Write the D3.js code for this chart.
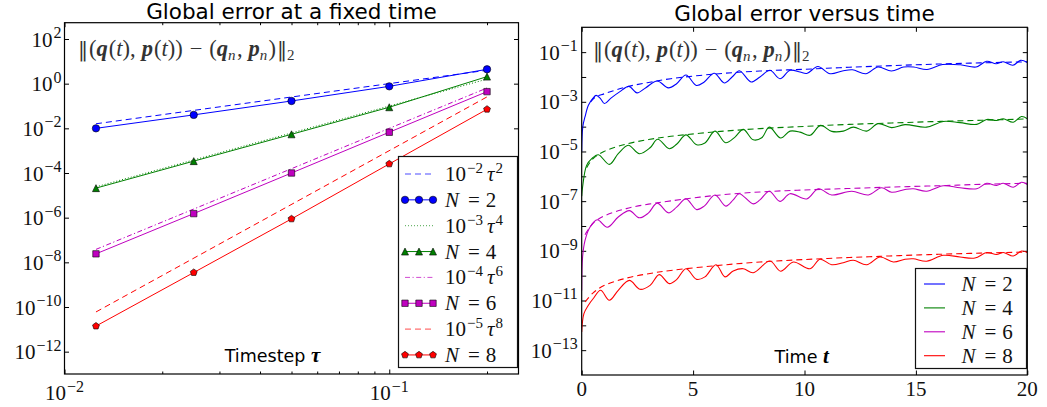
<!DOCTYPE html>
<html>
<head>
<meta charset="utf-8">
<script src="https://cdn.jsdelivr.net/npm/d3@7"></script>
<style>
  body { margin: 0; background: #fff; }
  svg { display: block; }
</style>
</head>
<body>
<svg id="chart" width="1047" height="407"></svg>
<script>
// ---------- convergence data: global error at fixed time vs timestep ----------
const taus  = [0.0125, 0.025, 0.05, 0.1, 0.2];
const errN2 = [1.0e-2, 4.0e-2, 1.68e-1, 7.6e-1, 4.4];
const errN4 = [2.1e-5, 3.4e-4, 5.4e-3, 8.8e-2, 2.07];
const errN6 = [2.4e-8, 1.52e-6, 1.0e-4, 6.7e-3, 4.4e-1];
const errN8 = [1.4e-11, 3.5e-9, 8.8e-7, 2.55e-4, 7.15e-2];

// reference power-law lines, values at the first and last timestep
const refTaus = [0.0125, 0.2];
const refN2 = [1.6e-2, 4.0];
const refN4 = [2.4e-5, 1.6];
const refN6 = [3.8e-8, 0.64];
const refN8 = [6.0e-11, 0.256];
const refCoefExp = ["−2", "−3", "−4", "−5"];
const refOrder   = ["2", "4", "6", "8"];
const orderN     = ["2", "4", "6", "8"];

// ---------- error versus time: [t, log10(error)] ----------
const curveN2 = [[0,-5.0],[0.05,-4.0],[0.15,-3.6],[0.3,-3.14],[0.5,-2.86],[0.65,-2.74],[0.85,-2.88],[1.02,-3.07],
  [1.3,-2.86],[1.7,-2.6],[2.12,-2.38],[2.48,-2.64],[2.88,-2.43],[3.39,-2.16],[3.89,-2.44],[4.26,-2.27],[4.68,-1.92],
  [5.15,-2.34],[5.5,-2.2],[5.95,-1.85],[6.4,-2.24],[6.75,-2.0],[7.08,-1.75],[7.6,-2.2],[8.0,-2.0],[8.45,-1.73],
  [8.9,-2.07],[9.35,-1.73],[9.8,-1.8],[10.1,-1.86],[10.6,-1.58],[11.15,-1.87],[11.7,-1.76],[12.15,-1.71],[12.75,-1.87],
  [13.3,-1.6],[13.9,-1.76],[14.45,-1.6],[14.9,-1.6],[15.5,-1.7],[16.2,-1.5],[17.0,-1.51],[17.7,-1.6],[18.18,-1.37],
  [18.6,-1.47],[18.92,-1.39],[19.35,-1.53],[19.7,-1.33],[20,-1.42]];
const curveN4 = [[0,-6.8],[0.04,-6.43],[0.22,-5.56],[0.45,-5.29],[0.75,-5.13],[1.24,-5.52],[1.64,-5.09],[2.09,-4.75],
  [2.59,-5.09],[3.07,-4.85],[3.41,-4.51],[3.93,-4.89],[4.26,-4.71],[4.68,-4.33],[5.16,-4.73],[5.53,-4.66],[5.98,-4.18],
  [6.46,-4.65],[6.88,-4.42],[7.25,-4.11],[7.7,-4.53],[8.08,-4.45],[8.42,-4.02],[8.93,-4.46],[9.35,-4.18],[9.8,-4.22],
  [10.25,-4.35],[10.72,-3.95],[11.22,-4.19],[11.74,-4.18],[12.19,-4.02],[12.79,-4.18],[13.31,-3.88],[13.91,-4.04],
  [14.51,-3.92],[15.48,-4.02],[16.23,-3.79],[16.98,-3.84],[17.73,-3.91],[18.18,-3.71],[18.62,-3.75],[18.92,-3.68],
  [19.37,-3.82],[19.74,-3.59],[20,-3.68]];
const curveN6 = [[0,-10.6],[0.04,-9.25],[0.15,-8.58],[0.37,-8.05],[0.7,-7.75],[1.15,-8.05],[1.64,-7.64],[2.14,-7.38],
  [2.59,-7.67],[2.99,-7.48],[3.39,-7.08],[3.89,-7.47],[4.26,-7.24],[4.68,-6.91],[5.16,-7.34],[5.5,-7.2],[5.98,-6.75],
  [6.47,-7.2],[6.8,-6.95],[7.07,-6.7],[7.7,-7.11],[8.0,-6.95],[8.42,-6.6],[8.9,-7.01],[9.35,-6.7],[10.1,-6.91],
  [10.62,-6.5],[11.22,-6.75],[12.12,-6.6],[12.87,-6.75],[13.46,-6.46],[13.91,-6.64],[14.51,-6.53],[14.88,-6.5],
  [15.48,-6.6],[16.23,-6.38],[16.98,-6.46],[17.73,-6.5],[18.18,-6.28],[18.62,-6.37],[18.92,-6.28],[19.37,-6.44],
  [19.74,-6.24],[20,-6.33]];
const curveN8 = [[0,-12.27],[0.1,-11.53],[0.3,-11.19],[0.52,-10.92],[0.85,-10.59],[1.24,-10.99],[1.64,-10.59],
  [2.14,-10.19],[2.62,-10.55],[3.07,-10.39],[3.48,-9.96],[3.93,-10.32],[4.26,-10.16],[4.68,-9.72],[5.16,-10.15],
  [5.53,-10.05],[6.03,-9.56],[6.43,-10.05],[6.8,-9.81],[7.25,-9.72],[7.7,-9.88],[8.45,-9.41],[8.93,-9.82],[9.5,-9.45],
  [10.25,-9.72],[10.7,-9.34],[11.22,-9.56],[11.74,-9.48],[12.19,-9.38],[12.79,-9.56],[13.39,-9.25],[13.99,-9.45],
  [14.51,-9.34],[14.88,-9.32],[15.48,-9.42],[16.23,-9.18],[16.98,-9.25],[17.65,-9.29],[18.18,-9.07],[18.62,-9.15],
  [18.92,-9.07],[19.37,-9.21],[19.74,-9.01],[20,-9.07]];

// averaged growth trend for each order
const trendN2 = [[0.4,-3.0],[0.6,-2.82],[1,-2.68],[2,-2.4],[3,-2.22],[4,-2.07],[6,-1.88],[8,-1.76],[10,-1.69],
  [12,-1.61],[14,-1.54],[16,-1.48],[18,-1.43],[20,-1.39]];
const trendN4 = [[0.22,-5.65],[0.5,-5.3],[1,-5.0],[2,-4.7],[3,-4.52],[4,-4.39],[6,-4.21],[8,-4.08],[10,-3.99],
  [12,-3.91],[14,-3.85],[16,-3.79],[18,-3.74],[20,-3.69]];
const trendN6 = [[0.15,-8.35],[0.5,-7.9],[1,-7.6],[2,-7.3],[3,-7.12],[4,-6.99],[6,-6.77],[8,-6.63],[10,-6.55],
  [12,-6.49],[14,-6.43],[16,-6.38],[18,-6.32],[20,-6.28]];
const trendN8 = [[0.15,-11.06],[0.5,-10.7],[1,-10.4],[2,-10.1],[3,-9.92],[4,-9.79],[6,-9.6],[8,-9.45],[10,-9.35],
  [12,-9.27],[14,-9.2],[16,-9.14],[18,-9.09],[20,-9.05]];

// tick values
const leftXMajor = [0.01, 0.1];
const leftXMinor = [0.02,0.03,0.04,0.05,0.06,0.07,0.08,0.09,0.2];
const leftYExp   = [2,0,-2,-4,-6,-8,-10,-12];
const timeTicks  = [0,5,10,15,20];
const rightYLabelExp = [-1,-3,-5,-7,-9,-11,-13];
const rightYTickExp  = [-1,-2,-3,-4,-5,-6,-7,-8,-9,-10,-11,-12,-13];

// ---------- styling ----------
const colors  = ["#0000ff", "#008000", "#bf00bf", "#ff0000"];
const refDash = ["6,4", "1,2", "5,2.5,1.2,2.5", "6,4"];
const markers = ["circle", "triangle", "square", "pentagon"];
const SERIF = "'Liberation Serif', 'DejaVu Serif', serif";
const SANS  = "'DejaVu Sans', sans-serif";
const TXT = "#111";
const TICK_FS = 21, SUP_FS = 16, SUP_RISE = 8.5;

const errs   = [errN2, errN4, errN6, errN8];
const refs   = [refN2, refN4, refN6, refN8];
const curves = [curveN2, curveN4, curveN6, curveN8];
const trends = [trendN2, trendN4, trendN6, trendN8];

const svg = d3.select("#chart");

// ---------- panel geometry and scales ----------
const L = {x0: 64.5, x1: 518.5, y0: 22.7, y1: 374};
const R = {x0: 581.7, x1: 1027.3, y0: 27.3, y1: 375};
const xL = d3.scaleLog().domain([0.01, 0.25]).range([L.x0, L.x1]);
const yL = d3.scaleLog().domain([1e-13, Math.pow(10, 2.73)]).range([L.y1, L.y0]);
const xR = d3.scaleLinear().domain([0, 20]).range([R.x0, R.x1]);
const yR = d3.scaleLog().domain([1e-14, 1]).range([R.y1, R.y0]);

function powText(sel, exp) {
  sel.append("tspan").text("10");
  sel.append("tspan").attr("dx", 1).attr("dy", -SUP_RISE).attr("font-size", SUP_FS)
     .text(exp < 0 ? "−" + (-exp) : String(exp));
}

function markerPath(kind, r) {
  if (kind === "circle") return d3.symbol(d3.symbolCircle, Math.PI * r * r)();
  if (kind === "square") return `M${-r},${-r}H${r}V${r}H${-r}Z`;
  if (kind === "triangle") return `M0,${-r}L${r},${r}L${-r},${r}Z`;
  const pts = d3.range(5).map(k => {
    const a = -Math.PI / 2 + k * 2 * Math.PI / 5;
    return [r * Math.cos(a), r * Math.sin(a)];
  });
  return "M" + pts.map(p => p.join(",")).join("L") + "Z";
}
const markerSize = {circle: 3.7, triangle: 3.5, square: 3.2, pentagon: 3.6};

// "N = k" legend label with math-style spacing
function nLabel(t, k) {
  t.append("tspan").attr("font-style", "italic").text("N");
  t.append("tspan").attr("dx", 9).text("=");
  t.append("tspan").attr("dx", 6).text(k);
}

const defs = svg.append("defs");
defs.append("clipPath").attr("id", "clipL").append("rect")
  .attr("x", L.x0).attr("y", L.y0).attr("width", L.x1 - L.x0).attr("height", L.y1 - L.y0);
defs.append("clipPath").attr("id", "clipR").append("rect")
  .attr("x", R.x0).attr("y", R.y0).attr("width", R.x1 - R.x0).attr("height", R.y1 - R.y0);

function styleAxis(g) {
  g.select(".domain").remove();
  g.selectAll(".tick line").attr("stroke", "#000").attr("stroke-width", 1);
}

// ===================== LEFT PANEL =====================
const gL = svg.append("g");

[["bottom", L.y1], ["top", L.y0]].forEach(([side, y]) => {
  const mk = side === "bottom" ? d3.axisBottom : d3.axisTop;
  gL.append("g").attr("transform", `translate(0,${y})`)
    .call(mk(xL).tickValues(leftXMajor).tickSize(-4.5).tickFormat("")).call(styleAxis);
  gL.append("g").attr("transform", `translate(0,${y})`)
    .call(mk(xL).tickValues(leftXMinor).tickSize(-2.5).tickFormat("")).call(styleAxis);
});
const leftYVals = leftYExp.map(e => Math.pow(10, e));
gL.append("g").attr("transform", `translate(${L.x0},0)`)
  .call(d3.axisLeft(yL).tickValues(leftYVals).tickSize(-4.5).tickFormat("")).call(styleAxis);
gL.append("g").attr("transform", `translate(${L.x1},0)`)
  .call(d3.axisRight(yL).tickValues(leftYVals).tickSize(-4.5).tickFormat("")).call(styleAxis);

leftYExp.forEach(e => {
  gL.append("text").attr("x", L.x0 - 3).attr("y", yL(Math.pow(10, e)) + 7.5)
    .attr("text-anchor", "end").attr("font-family", SERIF).attr("font-size", TICK_FS).attr("fill", TXT)
    .call(t => powText(t, e));
});
leftXMajor.forEach(v => {
  gL.append("text").attr("x", xL(v)).attr("y", 400)
    .attr("text-anchor", "middle").attr("font-family", SERIF).attr("font-size", TICK_FS).attr("fill", TXT)
    .call(t => powText(t, Math.round(Math.log10(v))));
});

const lineL = d3.line().x(d => xL(d[0])).y(d => yL(d[1]));
const plotL = gL.append("g").attr("clip-path", "url(#clipL)");
errs.forEach((vals, i) => {
  plotL.append("path").datum(refTaus.map((t, k) => [t, refs[i][k]]))
    .attr("d", lineL).attr("fill", "none").attr("stroke", colors[i])
    .attr("stroke-width", 1).attr("stroke-dasharray", refDash[i]);
  plotL.append("path").datum(taus.map((t, k) => [t, vals[k]]))
    .attr("d", lineL).attr("fill", "none").attr("stroke", colors[i]).attr("stroke-width", 1);
});
errs.forEach((vals, i) => {
  plotL.selectAll(null).data(taus.map((t, k) => [t, vals[k]])).enter().append("path")
    .attr("transform", d => `translate(${xL(d[0])},${yL(d[1])})`)
    .attr("d", markerPath(markers[i], markerSize[markers[i]]))
    .attr("fill", colors[i]).attr("stroke", "#000").attr("stroke-width", 0.6);
});

gL.append("rect").attr("x", L.x0).attr("y", L.y0).attr("width", L.x1 - L.x0).attr("height", L.y1 - L.y0)
  .attr("fill", "none").attr("stroke", "#000").attr("stroke-width", 1.2);

svg.append("text").attr("x", (L.x0 + L.x1) / 2).attr("y", 18.5).attr("text-anchor", "middle")
  .attr("font-family", SANS).attr("font-size", 21.5).attr("fill", "#000").text("Global error at a fixed time");

// norm of the error in phase space
function normLabel(x, y) {
  const t = svg.append("text").attr("x", x).attr("y", y).attr("font-family", SERIF)
    .attr("font-size", 22.5).attr("fill", "#333");
  const span = (s, dx) => { const ts = t.append("tspan").text(s); if (dx) ts.attr("dx", dx); return ts; };
  const bars = dx => span("\u2016", dx).attr("font-family", "'DejaVu Serif', serif").attr("font-size", 20);
  const bold = (s, dx) => span(s, dx).attr("font-weight", "bold").attr("font-style", "italic");
  const ital = (s, dx) => span(s, dx).attr("font-style", "italic");
  const sub = (s, italic) => {
    const ts = t.append("tspan").attr("dy", 4).attr("font-size", 15).text(s);
    if (italic) ts.attr("font-style", "italic");
    return ts;
  };
  const up = () => t.append("tspan").attr("dy", -4).attr("font-size", 15).text("\u200A");
  bars(); span("(", 1); bold("q"); span("(", 1); ital("t"); span("),");
  bold("p", 6); span("(", 1); ital("t"); span("))");
  span("\u2212", 7); span("(", 7); bold("q"); sub("n", true); up(); span(",");
  bold("p", 6); sub("n", true); up(); span(")"); bars(1); sub("2", false);
}
normLabel(78, 56);

svg.append("text").attr("x", 272.5).attr("y", 361.5).attr("text-anchor", "middle").attr("fill", "#000")
  .call(t => {
    t.append("tspan").attr("font-family", SANS).attr("font-size", 17.5).text("Timestep ");
    t.append("tspan").attr("font-family", SERIF).attr("font-size", 21)
      .attr("font-weight", "bold").attr("font-style", "italic").text("τ");
  });

// legend
const legL = {x0: 398.5, y0: 156.5, x1: 517.5, y1: 367.5, row0: 174, step: 25.85};
svg.append("rect").attr("x", legL.x0).attr("y", legL.y0).attr("width", legL.x1 - legL.x0)
  .attr("height", legL.y1 - legL.y0).attr("fill", "#fff").attr("stroke", "#111").attr("stroke-width", 1.2);
for (let i = 0; i < 4; i++) {
  const yRef = legL.row0 + (2 * i) * legL.step;
  const yDat = legL.row0 + (2 * i + 1) * legL.step;
  svg.append("line").attr("x1", 405).attr("x2", 433).attr("y1", yRef).attr("y2", yRef)
    .attr("stroke", colors[i]).attr("stroke-width", 1).attr("stroke-dasharray", refDash[i]).attr("opacity", 0.7);
  svg.append("text").attr("x", 445).attr("y", yRef + 7).attr("font-family", SERIF).attr("font-size", 21).attr("fill", TXT)
    .call(t => {
      t.append("tspan").text("10");
      t.append("tspan").attr("dx", 1).attr("dy", -8).attr("font-size", 15).text(refCoefExp[i]);
      t.append("tspan").attr("dx", 4).attr("dy", 8).attr("font-style", "italic").text("τ");
      t.append("tspan").attr("dx", 1).attr("dy", -8).attr("font-size", 15).text(refOrder[i]);
    });
  svg.append("line").attr("x1", 405).attr("x2", 433).attr("y1", yDat).attr("y2", yDat)
    .attr("stroke", colors[i]).attr("stroke-width", 1);
  [405, 419, 433].forEach(x => {
    svg.append("path").attr("transform", `translate(${x},${yDat})`)
      .attr("d", markerPath(markers[i], markerSize[markers[i]]))
      .attr("fill", colors[i]).attr("stroke", "#000").attr("stroke-width", 0.6);
  });
  svg.append("text").attr("x", 445).attr("y", yDat + 7).attr("font-family", SERIF).attr("font-size", 21).attr("fill", TXT)
    .call(t => nLabel(t, orderN[i]));
}

// ===================== RIGHT PANEL =====================
const gR = svg.append("g");
[["bottom", R.y1], ["top", R.y0]].forEach(([side, y]) => {
  const mk = side === "bottom" ? d3.axisBottom : d3.axisTop;
  gR.append("g").attr("transform", `translate(0,${y})`)
    .call(mk(xR).tickValues(timeTicks).tickSize(-4.5).tickFormat("")).call(styleAxis);
});
const rightYVals = rightYTickExp.map(e => Math.pow(10, e));
gR.append("g").attr("transform", `translate(${R.x0},0)`)
  .call(d3.axisLeft(yR).tickValues(rightYVals).tickSize(-4.5).tickFormat("")).call(styleAxis);
gR.append("g").attr("transform", `translate(${R.x1},0)`)
  .call(d3.axisRight(yR).tickValues(rightYVals).tickSize(-4.5).tickFormat("")).call(styleAxis);

rightYLabelExp.forEach(e => {
  gR.append("text").attr("x", R.x0 - 4).attr("y", yR(Math.pow(10, e)) + 7.5)
    .attr("text-anchor", "end").attr("font-family", SERIF).attr("font-size", TICK_FS).attr("fill", TXT)
    .call(t => powText(t, e));
});
timeTicks.forEach(v => {
  gR.append("text").attr("x", xR(v)).attr("y", 396).attr("text-anchor", "middle")
    .attr("font-family", SERIF).attr("font-size", TICK_FS).attr("fill", TXT).text(v);
});

const lineR = d3.line().x(d => xR(d[0])).y(d => yR(Math.pow(10, d[1]))).curve(d3.curveCatmullRom.alpha(0.5));
const plotR = gR.append("g").attr("clip-path", "url(#clipR)");
curves.forEach((c, i) => {
  plotR.append("path").datum(trends[i]).attr("d", lineR).attr("fill", "none")
    .attr("stroke", colors[i]).attr("stroke-width", 1.1).attr("stroke-dasharray", "6,4");
  plotR.append("path").datum(c).attr("d", lineR).attr("fill", "none")
    .attr("stroke", colors[i]).attr("stroke-width", 1.1);
});

gR.append("rect").attr("x", R.x0).attr("y", R.y0).attr("width", R.x1 - R.x0).attr("height", R.y1 - R.y0)
  .attr("fill", "none").attr("stroke", "#000").attr("stroke-width", 1.2);

svg.append("text").attr("x", (R.x0 + R.x1) / 2).attr("y", 21).attr("text-anchor", "middle")
  .attr("font-family", SANS).attr("font-size", 21.5).attr("fill", "#000").text("Global error versus time");
normLabel(593, 57);

svg.append("text").attr("x", 801.7).attr("y", 363).attr("text-anchor", "middle").attr("fill", "#000")
  .call(t => {
    t.append("tspan").attr("font-family", SANS).attr("font-size", 17.5).text("Time ");
    t.append("tspan").attr("font-family", SERIF).attr("font-size", 21)
      .attr("font-weight", "bold").attr("font-style", "italic").text("t");
  });

const legR = {x0: 915.5, y0: 268.5, x1: 1026.5, y1: 368.5, row0: 284, step: 23.9};
svg.append("rect").attr("x", legR.x0).attr("y", legR.y0).attr("width", legR.x1 - legR.x0)
  .attr("height", legR.y1 - legR.y0).attr("fill", "#fff").attr("stroke", "#111").attr("stroke-width", 1.2);
for (let i = 0; i < 4; i++) {
  const y = legR.row0 + i * legR.step;
  svg.append("line").attr("x1", 924).attr("x2", 945).attr("y1", y).attr("y2", y)
    .attr("stroke", colors[i]).attr("stroke-width", 1.1);
  svg.append("text").attr("x", 961.5).attr("y", y + 7).attr("font-family", SERIF).attr("font-size", 21).attr("fill", TXT)
    .call(t => nLabel(t, orderN[i]));
}
</script>
</body>
</html>
